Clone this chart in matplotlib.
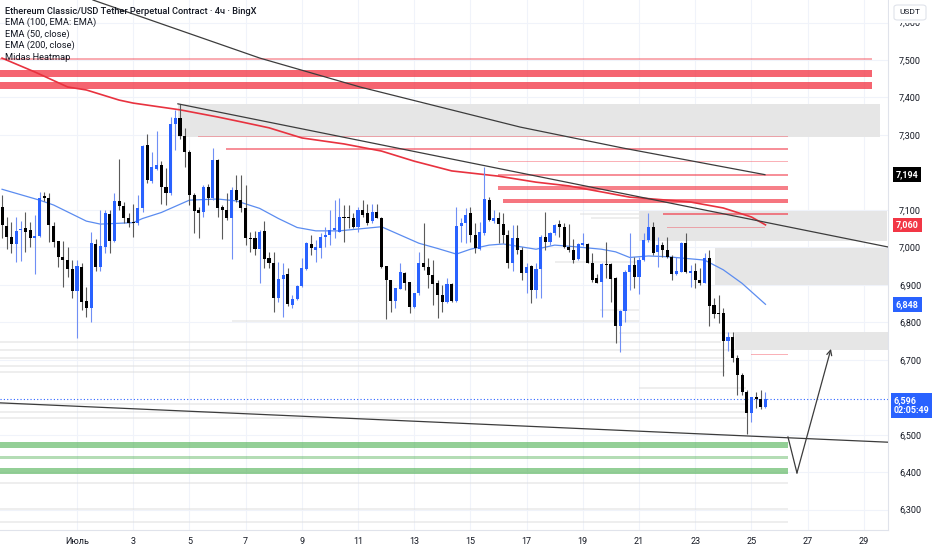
import matplotlib
matplotlib.use('Agg')
import matplotlib.pyplot as plt
import matplotlib.transforms as mtransforms
from matplotlib.patches import Rectangle, FancyBboxPatch
import numpy as np

plt.rcParams['font.family'] = ['Roboto', 'DejaVu Sans']

# ---------------- data ----------------
# time axis: days since 1 July 00:00, 4h candles starting 28 June 08:00
T0 = -2 - 2 / 3
opens = [7108, 7057, 7028, 7010, 7047, 7052, 7046, 7026, 7031, 7138, 7133, 7058, 7017, 6973, 6966, 6941,
         6883, 6948, 6857, 6839, 7009, 6947, 7002, 7089, 7018, 7124, 7110, 7077, 7068, 7066, 7104, 7273,
         7177, 7209, 7221, 7162, 7146, 7330, 7345, 7298, 7255, 7140, 7100, 7095, 7162, 7131, 7233, 7108,
         7100, 7077, 7153, 7126, 7104, 7024, 7024, 6995, 7044, 6971, 6957, 6866, 6915, 6928, 6846, 6862,
         6897, 6942, 7008, 6993, 6997, 7028, 7033, 7046, 7042, 7082, 7082, 7077, 7055, 7100, 7091, 7069,
         7095, 7077, 6949, 6913, 6857, 6890, 6931, 6908, 6842, 6877, 6957, 6948, 6926, 6904, 6874, 6855,
         6901, 6857, 7057, 7064, 7093, 7033, 6995, 7037, 7126, 7069, 7079, 7062, 7033, 6957, 7024, 6993,
         6931, 6950, 6886, 6941, 7028, 7015, 7037, 7062, 7055, 7002, 6993, 6968, 7006, 7008, 6959, 6917,
         6908, 6955, 6955, 6917, 6790, 6831, 6935, 6953, 6922, 6966, 7020, 7053, 6988, 7006, 6993, 6975,
         6930, 6935, 7011, 6931, 6937, 6913, 6906, 6971, 6846, 6826, 6824, 6750, 6762, 6705, 6659, 6615,
         6557, 6600, 6595, 6575]
highs = [7140, 7082, 7068, 7082, 7070, 7095, 7068, 7086, 7149, 7148, 7146, 7068, 7018, 7018, 7002, 6966,
         6966, 6957, 6895, 7042, 7021, 7101, 7100, 7100, 7144, 7235, 7122, 7091, 7115, 7141, 7273, 7302,
         7255, 7311, 7230, 7211, 7349, 7366, 7383, 7318, 7260, 7144, 7108, 7166, 7168, 7264, 7237, 7113,
         7144, 7162, 7193, 7193, 7166, 7042, 7044, 7046, 7070, 6988, 6988, 6962, 6957, 6944, 6873, 6900,
         6971, 7015, 7033, 7020, 7037, 7055, 7100, 7126, 7131, 7113, 7113, 7091, 7108, 7126, 7117, 7117,
         7117, 7082, 6951, 6913, 6891, 6957, 6935, 6908, 6877, 6988, 7064, 6971, 6966, 6913, 6900, 6917,
         6904, 7108, 7077, 7104, 7109, 7064, 7068, 7215, 7135, 7100, 7095, 7091, 7046, 7060, 7060, 7000,
         6957, 6953, 6957, 7033, 7095, 7042, 7062, 7073, 7066, 7062, 7021, 7011, 7037, 7011, 6984, 6930,
         6957, 7015, 6957, 6922, 6833, 6940, 7037, 6975, 6975, 7037, 7091, 7068, 7028, 7015, 7028, 6979,
         6975, 7015, 7037, 6953, 6957, 6944, 6986, 6993, 6864, 6873, 6839, 6775, 6775, 6713, 6664, 6619,
         6601, 6615, 6619, 6613]
lows = [7024, 6995, 6984, 6962, 6964, 6988, 7002, 6929, 7028, 7125, 7015, 7002, 6948, 6895, 6922, 6866,
        6757, 6833, 6815, 6802, 6938, 6937, 6984, 6984, 7015, 7100, 7066, 7055, 7028, 7060, 7095, 7171,
        7173, 7206, 7117, 7113, 7140, 7260, 7290, 7215, 7113, 7037, 7024, 7082, 7113, 7126, 7082, 7022,
        7073, 6968, 7122, 7095, 7006, 6988, 6980, 6904, 6944, 6944, 6828, 6855, 6815, 6844, 6837, 6860,
        6895, 6940, 6980, 6962, 6971, 7002, 7006, 7024, 7040, 7015, 7051, 7051, 7042, 7082, 7060, 7064,
        7077, 6944, 6809, 6828, 6837, 6888, 6886, 6824, 6837, 6873, 6940, 6891, 6846, 6811, 6828, 6851,
        6855, 6855, 7015, 7011, 7015, 6984, 6993, 7033, 7071, 7064, 7011, 7011, 6944, 6938, 6982, 6913,
        6877, 6851, 6864, 6864, 6993, 7006, 7033, 7028, 6999, 6988, 6957, 6966, 7004, 6957, 6908, 6904,
        6815, 6917, 6855, 6744, 6722, 6800, 6886, 6891, 6875, 6964, 7015, 6979, 6948, 6975, 6971, 6913,
        6926, 6933, 6931, 6893, 6891, 6899, 6904, 6791, 6812, 6797, 6657, 6723, 6695, 6606, 6606, 6501,
        6535, 6570, 6568, 6572]
closes = [7060, 7028, 7010, 7043, 7050, 7040, 7026, 7030, 7133, 7133, 7060, 7015, 6975, 6966, 6941, 6883,
          6951, 6855, 6839, 7012, 6947, 7004, 7091, 7018, 7124, 7110, 7079, 7064, 7064, 7106, 7271, 7180,
          7215, 7221, 7162, 7144, 7328, 7344, 7298, 7255, 7140, 7097, 7091, 7162, 7131, 7233, 7106, 7100,
          7077, 7153, 7126, 7104, 7024, 7022, 6995, 7042, 6969, 6957, 6866, 6915, 6926, 6848, 6862, 6897,
          6944, 7011, 6997, 7000, 7028, 7033, 7046, 7051, 7082, 7077, 7079, 7055, 7101, 7085, 7064, 7095,
          7079, 6947, 6913, 6857, 6891, 6933, 6904, 6842, 6877, 6957, 6948, 6926, 6901, 6873, 6855, 6901,
          6857, 7057, 7064, 7086, 7033, 6997, 7042, 7128, 7073, 7079, 7062, 7033, 6957, 7024, 6993, 6932,
          6948, 6886, 6941, 7028, 7015, 7037, 7060, 7055, 7002, 6993, 6966, 7008, 7011, 6959, 6913, 6906,
          6955, 6953, 6915, 6790, 6831, 6935, 6953, 6922, 6966, 7020, 7053, 6986, 7006, 6993, 6975, 6928,
          6937, 7011, 6933, 6937, 6913, 6906, 6971, 6843, 6821, 6821, 6750, 6762, 6704, 6659, 6615, 6557,
          6600, 6595, 6575, 6596]

# EMA lines (candle index, value)
ema50_idx = [0, 8, 11, 18, 21, 28, 30, 34, 36, 40, 46, 50, 55, 59, 63, 67, 72, 81, 85, 89, 93, 97, 100,
             104, 107, 114, 118, 122, 128, 131, 134, 138, 142, 150, 154, 158, 163]
ema50_val = [7155, 7126, 7113, 7070, 7062, 7066, 7077, 7093, 7104, 7126, 7129, 7124, 7104, 7077, 7053,
             7044, 7044, 7055, 7033, 7011, 6997, 6982, 6995, 7006, 7009, 6995, 7006, 7002, 6995, 6988,
             6973, 6977, 6975, 6966, 6940, 6904, 6848]
ema200_idx = [0, 7, 14, 18, 25, 28, 38, 46, 51, 57, 64, 73, 81, 88, 96, 106, 114, 121, 128, 134, 147,
              154, 160, 163]
ema200_val = [7505, 7468, 7428, 7420, 7393, 7385, 7367, 7348, 7335, 7319, 7292, 7276, 7257, 7230, 7204,
              7190, 7174, 7164, 7148, 7134, 7121, 7105, 7081, 7060]

# heatmap levels: price, thickness (price units), start day, end day, strength
red_levels = [7503, 7464, 7432, 7295, 7262, 7228, 7192, 7158, 7124, 7089, 7054, 6715]
red_thick = [4, 18, 17, 3, 6, 3, 5, 9, 11, 6, 3, 3]
red_start = [-2.74, -2.74, -2.74, 4.31, 5.30, 14.98, 14.98, 14.98, 15.16, 20.85, 21.0, 23.99]
red_end = [28.3, 28.3, 28.3, 25.3, 25.3, 25.3, 25.3, 25.3, 25.3, 25.3, 24.48, 25.3]
red_strength = [0.35, 1.0, 1.0, 0.3, 0.6, 0.3, 0.6, 0.75, 0.85, 0.7, 0.3, 0.3]

green_levels = [6472, 6439, 6404]
green_thick = [16, 10, 16]
green_strength = [1.0, 0.55, 1.0]
green_start, green_end = -2.74, 25.3

gray_levels = [7090, 7078, 6960, 6833, 6803, 6771, 6747, 6726, 6705, 6683, 6667, 6625, 6582, 6561,
               6545, 6371, 6302, 6267]
gray_start = [17.9, 18.3, 17.0, 18.6, 5.5, 19.3, -2.74, -2.74, -2.74, -2.74, -2.74, 20.0, -2.74, -2.74,
              -2.74, -2.74, -2.74, -2.74]
gray_end = [20.0, 20.0, 20.0, 20.0, 20.0, 23.4, 22.9, 23.4, 23.06, 23.06, 23.06, 23.8, 23.8, 23.8, 23.8,
            25.3, 25.3, 25.3]

# zones (gray boxes): price low, price high, start day, end day
zone_low = [7295, 7017, 6900, 6726]
zone_high = [7383, 7097, 6998, 6774]
zone_start = [3.59, 20.0, 22.7, 23.42]
zone_end = [28.58, 28.83, 28.86, 28.86]

# drawn lines
upper_line_t = [0.57, 6.51, 10.07, 15.77, 19.43, 24.48]
upper_line_p = [7660, 7505, 7428, 7321, 7265, 7194]
mid_line_t = [3.59, 28.86]
mid_line_p = [7383, 7001]
support_t = [-2.74, 28.86]
support_p = [6585, 6480]
arrow_t = [25.30, 25.62, 26.83]
arrow_p = [6494, 6398, 6729]

last_price = 6596
countdown = '02:05:49'
tick_days = list(range(0, 30, 2))
tick_labels = ['Июль'] + [str(d + 1) for d in tick_days[1:]]
price_ticks = [6300, 6400, 6500, 6700, 6800, 6900, 7000, 7100, 7300, 7400, 7500, 7600]

# ---------------- figure ----------------
W, H = 932, 550
fig = plt.figure(figsize=(W / 100, H / 100), dpi=100)
ax = fig.add_axes([0, 20 / H, 888 / W, 530 / H])
ax.set_xlim(-2.74, 28.86)
ax.set_ylim(6245.7, 7660.1)

for s in ['top', 'left']:
    ax.spines[s].set_visible(False)
for s in ['right', 'bottom']:
    ax.spines[s].set_color('#e0e3eb')
    ax.spines[s].set_linewidth(0.8)

ax.set_xticks(tick_days)
ax.set_xticklabels(tick_labels)
ax.set_yticks(price_ticks)
ax.set_yticklabels([f'{p:,}' for p in price_ticks])
ax.yaxis.tick_right()
ax.tick_params(axis='both', length=0, labelsize=6.5, labelcolor='#131722')
ax.tick_params(axis='y', pad=8)
ax.tick_params(axis='x', pad=5)
ax.grid(True, color='#f0f3fa', lw=0.8)
ax.set_axisbelow(True)

# heatmap gray lines
for p, a, b in zip(gray_levels, gray_start, gray_end):
    ax.plot([a, b], [p, p], color='#d9d9d9', lw=1.1, alpha=0.55, zorder=1, solid_capstyle='butt')

# zones
for lo, hi, a, b in zip(zone_low, zone_high, zone_start, zone_end):
    ax.add_patch(Rectangle((a, lo), b - a, hi - lo, facecolor='#e6e6e6', edgecolor='none', zorder=1.2))

# red heatmap bands
for p, h, a, b, s in zip(red_levels, red_thick, red_start, red_end, red_strength):
    ax.add_patch(Rectangle((a, p - h / 2), b - a, h, facecolor='#f23645', alpha=0.22 + 0.55 * s,
                           edgecolor='none', zorder=1.5))
# green heatmap bands
for p, h, s in zip(green_levels, green_thick, green_strength):
    ax.add_patch(Rectangle((green_start, p - h / 2), green_end - green_start, h, facecolor='#4caf50',
                           alpha=0.2 + 0.4 * s, edgecolor='none', zorder=1.5))

# price line
ax.axhline(last_price, color='#2962ff', lw=0.8, ls=(0, (1, 2)), zorder=2)

# EMAs
t_of = lambda idx: T0 + np.asarray(idx) / 6
ax.plot(t_of(ema50_idx), ema50_val, color='#5b8cf0', lw=0.9, zorder=3)
ax.plot(t_of(ema200_idx), ema200_val, color='#e8323f', lw=1.2, zorder=3)

# candles
t = T0 + np.arange(len(opens)) / 6
o = np.array(opens); c = np.array(closes); hi = np.array(highs); lo = np.array(lows)
up = c >= o
body_col = np.where(up, '#2962ff', '#000000')
wick_col = np.where(up, '#6f8ff5', '#5a5a5a')
ax.vlines(t, lo, hi, colors=wick_col, lw=0.8, zorder=4)
bottom = np.minimum(o, c)
height = np.maximum(np.abs(c - o), 3)
ax.bar(t, height, bottom=bottom, width=0.11, color=body_col, lw=0, zorder=5)

# drawn lines
ax.plot(upper_line_t, upper_line_p, color='#3c3c3c', lw=0.9, zorder=6)
ax.plot(mid_line_t, mid_line_p, color='#3c3c3c', lw=0.9, zorder=6)
ax.plot(support_t, support_p, color='#3c3c3c', lw=0.9, zorder=6)
ax.plot(arrow_t[:2], arrow_p[:2], color='#3c3c3c', lw=0.9, zorder=6)
ax.annotate('', xy=(arrow_t[2], arrow_p[2]), xytext=(arrow_t[1], arrow_p[1]),
            arrowprops=dict(arrowstyle='->', color='#3c3c3c', lw=0.9, mutation_scale=9,
                            shrinkA=0, shrinkB=0), zorder=6)

# price tags on the right scale
tr = mtransforms.blended_transform_factory(ax.transAxes, ax.transData)
def tag(p, text, bg, dx=8):
    ax.text(1 + dx / 888, p, text, transform=tr, ha='left', va='center', fontsize=6.5, color='white',
            fontweight='bold', clip_on=False, zorder=10, linespacing=1.15,
            bbox=dict(boxstyle='square,pad=0.3', fc=bg, ec='none'))

tag(upper_line_p[-1], f'{upper_line_p[-1]:,}', '#000000')
tag(ema200_val[-1], f'{ema200_val[-1]:,}', '#f23645')
tag(ema50_val[-1], f'{ema50_val[-1]:,}', '#2962ff')
tag(last_price - 18, f'{last_price:,}\n{countdown}', '#2962ff', dx=6)

# USDT box (covers the top half of the 7,600 label as in the original)
fig.patches.append(Rectangle((889 / W, 1 - 23 / H), 43 / W, 23 / H, transform=fig.transFigure,
                             fc='white', ec='none', zorder=19))
fig.patches.append(FancyBboxPatch((894 / W, 1 - 20 / H), 32 / W, 15 / H,
                                  boxstyle='round,pad=0,rounding_size=0.004',
                                  transform=fig.transFigure, fc='white', ec='#e0e3eb', lw=0.8, zorder=20))
fig.text(910 / W, 1 - 12.5 / H, 'USDT', ha='center', va='center', fontsize=6, color='#131722', zorder=21)

# legend texts
legend = ['Ethereum Classic/USD Tether Perpetual Contract · 4ч · BingX', 'EMA (100, EMA: EMA)',
          'EMA (50, close)', 'EMA (200, close)', 'Midas Heatmap']
for k, txt in enumerate(legend):
    fig.text(5 / W, 1 - (11 + 11.5 * k) / H, txt, ha='left', va='center', fontsize=6.7,
             color='#131722', fontweight='medium' if k == 0 else 'normal', zorder=20)

fig.savefig('out.png', dpi=100, facecolor='white')
